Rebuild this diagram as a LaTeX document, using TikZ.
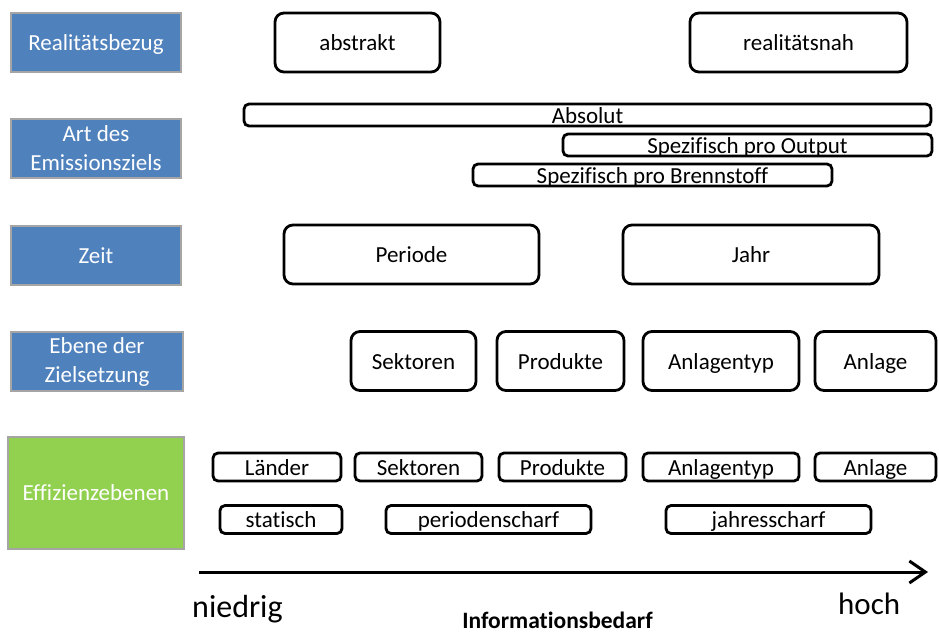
\documentclass[tikz,border=0pt]{standalone}
\usepackage{fontspec}
\setmainfont[Ligatures=CommonOff]{Carlito}
\usepackage{tikz}
\usetikzlibrary{arrows.meta,positioning}

\definecolor{katblau}{HTML}{4F81BD}
\definecolor{katrand}{HTML}{A5A5A5}
\definecolor{effgruen}{HTML}{92D050}

\begin{document}
\begin{tikzpicture}[x=1pt, y=-1pt, >={Straight Barb[length=16pt,width=22pt]},
	kat/.style={rectangle, fill=katblau, draw=katrand, line width=2pt, text=white, align=center,
		minimum width=170pt, minimum height=59pt, inner sep=0pt, font=\fontsize{23}{29}\selectfont},
	auspr/.style={rectangle, rounded corners=9pt, draw, line width=2.8pt, inner sep=0pt,
		minimum height=59pt, text height=19pt, text depth=3pt, font=\fontsize{23}{27}\selectfont},
	balken/.style={auspr, rounded corners=5pt, minimum height=22pt},
	klein/.style={balken, minimum height=28pt}]
	\useasboundingbox (0,0) rectangle (939,633);

	% Kategorien links
	\node[kat, text height=19pt, text depth=3pt] (real) at (96,42.5) {Realitätsbezug};
	\node[kat] (art)   at (96,148.5) {Art des\\Emissionsziels};
	\node[kat, text height=19pt, text depth=3pt] (zeit) at (96,255) {Zeit};
	\node[kat, minimum width=172pt] (ebene) at (97,361.5) {Ebene der\\Zielsetzung};
	\node[kat, fill=effgruen, minimum width=176pt, minimum height=112pt] (eff) at (96,493) {Effizienzebenen};

	% Realitaetsbezug
	\node[auspr, minimum width=165pt] (abstrakt) at (357.5,42.5) {abstrakt};
	\node[auspr, minimum width=217pt] (nah)      at (798.5,42.5) {realitätsnah};

	% Emissionsziel
	\node[balken, minimum width=687pt] (absolut) at (587.5,115) {Absolut};
	\node[balken, minimum width=369pt] (output)  at (747.5,145) {Spezifisch pro Output};
	\node[balken, minimum width=359pt] (brenn)   at (652.5,175) {Spezifisch pro Brennstoff};

	% Zeit
	\node[auspr, minimum width=255pt] (periode) at (411.5,254.5) {Periode};
	\node[auspr, minimum width=256pt] (jahr)    at (751,254.5)   {Jahr};

	% Ebene der Zielsetzung
	\node[auspr, minimum width=125pt] (zsek)  at (413.5,361) {Sektoren};
	\node[auspr, minimum width=127pt] (zprod) at (560.5,361) {Produkte};
	\node[auspr, minimum width=156pt] (ztyp)  at (721,361)   {Anlagentyp};
	\node[auspr, minimum width=121pt] (zanl)  at (875.5,361) {Anlage};

	% Effizienzebenen
	\node[klein, minimum width=128pt] (laender) at (277,467)   {Länder};
	\node[klein, minimum width=127pt] (esek)    at (418.5,467) {Sektoren};
	\node[klein, minimum width=127pt] (eprod)   at (562.5,467) {Produkte};
	\node[klein, minimum width=156pt] (etyp)    at (721,467)   {Anlagentyp};
	\node[klein, minimum width=121pt] (eanl)    at (875.5,467) {Anlage};
	\node[klein, minimum width=122pt] (statisch) at (281,519.5)  {statisch};
	\node[klein, minimum width=205pt] (pscharf)  at (488.5,519.5) {periodenscharf};
	\node[klein, minimum width=205pt] (jscharf)  at (768.5,519.5) {jahresscharf};

	% Achse Informationsbedarf
	\coordinate (achseA) at (199,572);
	\coordinate (achseB) at (928,572);
	\draw[->, line width=3pt] (achseA) -- (achseB);
	\node[anchor=base west, inner sep=0pt, font=\fontsize{32}{36}\selectfont] (niedrig) at (192,617) {niedrig};
	\node[anchor=base west, inner sep=0pt, font=\fontsize{31}{36}\selectfont] (hoch) at (838,614) {hoch};
	\node[anchor=base, inner sep=0pt, font=\fontsize{23.5}{27}\selectfont\bfseries] (info) at (557.5,628) {Informationsbedarf};
\end{tikzpicture}
\end{document}
